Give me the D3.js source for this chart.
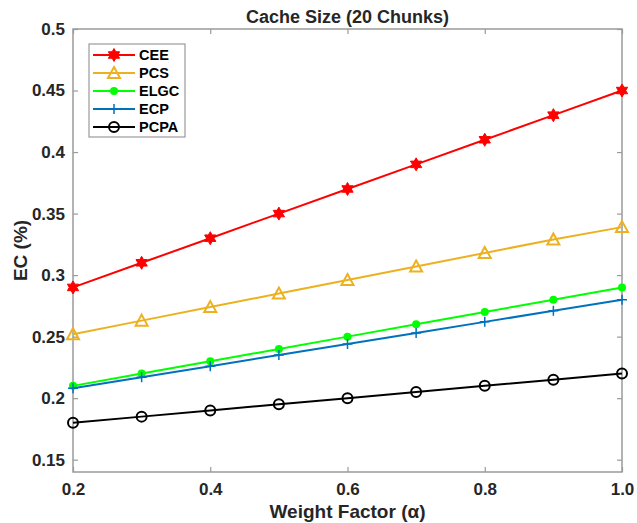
<!DOCTYPE html>
<html lang="en">
<head>
  <meta charset="UTF-8">
  <title>Cache Size (20 Chunks)</title>
  <script src="https://cdn.jsdelivr.net/npm/d3@7"></script>
  <style>
    body { margin: 0; background: #fff; }
    text { font-family: "Liberation Sans", Arial, sans-serif; font-weight: bold; fill: #262626; }
  </style>
</head>
<body>
<div id="viz"></div>
<script>
  // data
  var weights = [0.2, 0.3, 0.4, 0.5, 0.6, 0.7, 0.8, 0.9, 1.0];
  var cee  = [0.29, 0.31, 0.33, 0.35, 0.37, 0.39, 0.41, 0.43, 0.45];
  var pcs  = [0.252, 0.263, 0.274, 0.285, 0.296, 0.307, 0.318, 0.329, 0.339];
  var elgc = [0.21, 0.22, 0.23, 0.24, 0.25, 0.26, 0.27, 0.28, 0.29];
  var ecp  = [0.208, 0.217, 0.226, 0.235, 0.244, 0.253, 0.262, 0.271, 0.28];
  var pcpa = [0.18, 0.185, 0.19, 0.195, 0.2, 0.205, 0.21, 0.215, 0.22];
  var seriesNames = ["CEE", "PCS", "ELGC", "ECP", "PCPA"];
  var xTicks = [0.2, 0.4, 0.6, 0.8, 1.0];
  var yTicks = [0.15, 0.2, 0.25, 0.3, 0.35, 0.4, 0.45, 0.5];

  var series = [
    { name: "CEE", values: cee, color: "#ff0000", marker: "hexagram" },
    { name: "PCS", values: pcs, color: "#edb120", marker: "triangle" },
    { name: "ELGC", values: elgc, color: "#00ff00", marker: "dot" },
    { name: "ECP", values: ecp, color: "#0072bd", marker: "plus" },
    { name: "PCPA", values: pcpa, color: "#000000", marker: "circle" }
  ];

  var width = 637, height = 523;
  var margin = { top: 29, right: 15, bottom: 51, left: 73 };
  var plotW = width - margin.left - margin.right;
  var plotH = height - margin.top - margin.bottom;

  var svg = d3.select("#viz").append("svg")
    .attr("width", width)
    .attr("height", height);

  var x = d3.scaleLinear().domain([0.2, 1.0]).range([0, plotW]);
  var y = d3.scaleLinear().domain([0.14, 0.5]).range([plotH, 0]);

  var g = svg.append("g")
    .attr("transform", "translate(" + margin.left + "," + margin.top + ")");

  var axisColor = "#9a9a9a";

  // box
  g.append("rect")
    .attr("width", plotW)
    .attr("height", plotH)
    .attr("fill", "none")
    .attr("stroke", axisColor)
    .attr("stroke-width", 1.5);

  // bottom axis
  var xAxis = g.append("g")
    .attr("transform", "translate(0," + plotH + ")")
    .call(d3.axisBottom(x).tickValues(xTicks).tickSize(-5).tickPadding(17)
      .tickFormat(function(d) { return d === 1 ? "1.0" : d3.format("")(d); }));
  // top ticks
  var xTop = g.append("g")
    .call(d3.axisTop(x).tickValues(xTicks).tickSize(-5).tickFormat(""));
  // left axis
  var yAxis = g.append("g")
    .call(d3.axisLeft(y).tickValues(yTicks).tickSize(-5).tickPadding(8)
      .tickFormat(d3.format("")));
  // right ticks
  var yRight = g.append("g")
    .attr("transform", "translate(" + plotW + ",0)")
    .call(d3.axisRight(y).tickValues(yTicks).tickSize(-5).tickFormat(""));

  [xAxis, xTop, yAxis, yRight].forEach(function(a) {
    a.select(".domain").remove();
    a.selectAll(".tick line").attr("stroke", axisColor).attr("stroke-width", 1.2);
    a.selectAll(".tick text").style("font-size", "17px");
  });
  xAxis.selectAll(".tick text").attr("dy", "0.35em");

  // titles
  svg.append("text")
    .attr("x", margin.left + plotW / 2)
    .attr("y", 23)
    .attr("text-anchor", "middle")
    .style("font-size", "18px")
    .text("Cache Size (20 Chunks)");

  svg.append("text")
    .attr("x", margin.left + plotW / 2)
    .attr("y", 518)
    .attr("text-anchor", "middle")
    .style("font-size", "19px")
    .text("Weight Factor (\u03b1)");

  svg.append("text")
    .attr("transform", "translate(27," + (margin.top + plotH / 2) + ") rotate(-90)")
    .attr("text-anchor", "middle")
    .style("font-size", "19px")
    .text("EC (%)");

  // marker drawing
  function hexagramPath(r) {
    var pts = [];
    for (var i = 0; i < 12; i++) {
      var a = -Math.PI / 2 + i * Math.PI / 6;
      var rr = i % 2 === 0 ? r : r * 0.577;
      pts.push([rr * Math.cos(a), rr * Math.sin(a)]);
    }
    return "M" + pts.join("L") + "Z";
  }

  function drawMarker(sel, s) {
    if (s.marker === "hexagram") {
      sel.append("path").attr("d", hexagramPath(6.5))
        .attr("fill", s.color).attr("stroke", s.color).attr("stroke-width", 1);
    } else if (s.marker === "triangle") {
      sel.append("path").attr("d", "M0,-6L6,5L-6,5Z")
        .attr("fill", "none").attr("stroke", s.color).attr("stroke-width", 2);
    } else if (s.marker === "dot") {
      sel.append("circle").attr("r", 4).attr("fill", s.color);
    } else if (s.marker === "plus") {
      sel.append("path").attr("d", "M-5,0H5M0,-5V5")
        .attr("stroke", s.color).attr("stroke-width", 1.5);
    } else {
      sel.append("circle").attr("r", 5)
        .attr("fill", "none").attr("stroke", s.color).attr("stroke-width", 2);
    }
  }

  var line = d3.line()
    .x(function(d, i) { return x(weights[i]); })
    .y(function(d) { return y(d); });

  series.forEach(function(s) {
    g.append("path")
      .datum(s.values)
      .attr("fill", "none")
      .attr("stroke", s.color)
      .attr("stroke-width", 2)
      .attr("d", line);

    g.selectAll(null)
      .data(s.values)
      .enter().append("g")
      .attr("transform", function(d, i) { return "translate(" + x(weights[i]) + "," + y(d) + ")"; })
      .each(function() { drawMarker(d3.select(this), s); });
  });

  // legend
  var legend = svg.append("g").attr("transform", "translate(89,44)");
  legend.append("rect")
    .attr("width", 96)
    .attr("height", 93)
    .attr("fill", "#fff")
    .attr("stroke", axisColor)
    .attr("stroke-width", 1.2);

  var items = legend.selectAll(".item")
    .data(series)
    .enter().append("g")
    .attr("class", "item")
    .attr("transform", function(d, i) { return "translate(0," + (11 + i * 18) + ")"; });

  items.append("line")
    .attr("x1", 4).attr("x2", 46)
    .attr("stroke", function(d) { return d.color; })
    .attr("stroke-width", 2);
  items.append("g")
    .attr("transform", "translate(25,0)")
    .each(function(d) { drawMarker(d3.select(this), d); });
  items.append("text")
    .attr("x", 50)
    .attr("dy", "0.36em")
    .style("font-size", "14.5px")
    .style("fill", "#000")
    .text(function(d, i) { return seriesNames[i]; });
</script>
</body>
</html>
